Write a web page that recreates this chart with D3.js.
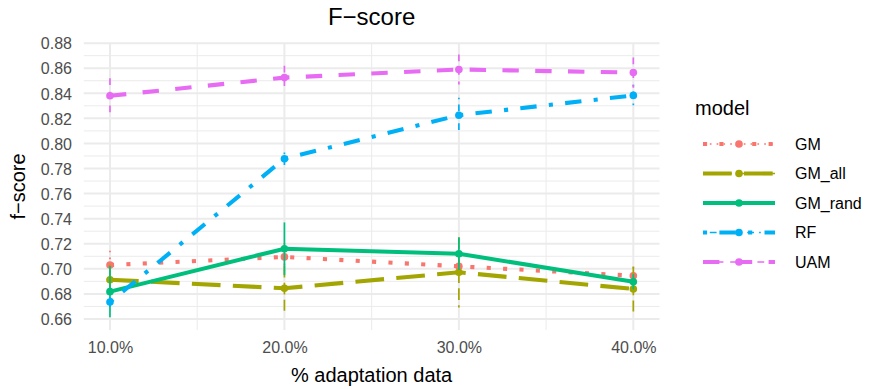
<!DOCTYPE html>
<html>
<head>
<meta charset="utf-8">
<script src="https://cdn.jsdelivr.net/npm/d3@7"></script>
<style>
  body { margin: 0; background: #fff; }
  svg text { font-family: "Liberation Sans", Arial, sans-serif; }
</style>
</head>
<body>
<svg width="874" height="389"></svg>
<script>
// data
var fractions = [10, 20, 30, 40];
var models = ["GM", "GM_all", "GM_rand", "RF", "UAM"];
var GM      = [0.703, 0.7095, 0.702, 0.6945];
var GM_all  = [0.6913, 0.6845, 0.6972, 0.6839];
var GM_rand = [0.6818, 0.7160, 0.7120, 0.6897];
var RF      = [0.6735, 0.7878, 0.8225, 0.8383];
var UAM     = [0.8380, 0.8525, 0.8590, 0.8565];
var GM_sd      = [0.0115, 0.011, 0.010, 0.007];
var GM_all_sd  = [0.012, 0.018, 0.028, 0.018];
var GM_rand_sd = [0.0205, 0.021, 0.013, 0.006];
var RF_sd      = [0.004, 0.005, 0.014, 0.0085];
var UAM_sd     = [0.014, 0.0095, 0.012, 0.012];
var yTicks = [0.66, 0.68, 0.70, 0.72, 0.74, 0.76, 0.78, 0.80, 0.82, 0.84, 0.86, 0.88];
var xTicks = [10, 20, 30, 40];

var values = { "GM": GM, "GM_all": GM_all, "GM_rand": GM_rand, "RF": RF, "UAM": UAM };
var sds = { "GM": GM_sd, "GM_all": GM_all_sd, "GM_rand": GM_rand_sd, "RF": RF_sd, "UAM": UAM_sd };

var color = {
  'GM': "#F8766D",
  'GM_all': "#A3A500",
  'GM_rand': "#00BF7D",
  'RF': "#00B0F6",
  'UAM': "#E76BF3"
};
// R linetypes: dotted, longdash, solid, dotdash, dashed (in units of lwd)
var dashUnits = {
  'GM': [1, 3],
  'GM_all': [7, 3],
  'GM_rand': null,
  'RF': [1, 3, 4, 3],
  'UAM': [4, 4]
};
var THICK = 4.1, THIN = 1.7;
function dash(m, w) {
  if (!dashUnits[m]) return null;
  return dashUnits[m].map(function(u) { return u * w; }).join(",");
}

var svg = d3.select("svg");
var panel = { left: 83.8, right: 659.5, top: 43, bottom: 330 };

var x = d3.scaleLinear().domain([8.5, 41.5]).range([panel.left, panel.right]);
var y = d3.scaleLinear().domain([0.6512, 0.8801]).range([panel.bottom, panel.top]);

/*  GRID  */
var grid = svg.append("g");
d3.range(0.65, 0.885, 0.01).forEach(function(v) {
  var major = yTicks.some(function(t) { return Math.abs(t - v) < 1e-6; });
  if (y(v) < panel.top - 1 || y(v) > panel.bottom) return;
  grid.append("line")
    .attr("x1", panel.left).attr("x2", panel.right)
    .attr("y1", y(v)).attr("y2", y(v))
    .attr("stroke", "#EBEBEB").attr("stroke-width", major ? 2 : 1);
});
[15, 25, 35].forEach(function(v) {
  grid.append("line")
    .attr("x1", x(v)).attr("x2", x(v)).attr("y1", panel.top).attr("y2", panel.bottom)
    .attr("stroke", "#EBEBEB").attr("stroke-width", 1);
});
xTicks.forEach(function(v) {
  grid.append("line")
    .attr("x1", x(v)).attr("x2", x(v)).attr("y1", panel.top).attr("y2", panel.bottom)
    .attr("stroke", "#EBEBEB").attr("stroke-width", 2);
});

/*  AXES  */
var yAxis = d3.axisLeft(y).tickValues(yTicks).tickSize(0).tickPadding(0).tickFormat(d3.format(".2f"));
var gy = svg.append("g").attr("transform", "translate(72,0)").call(yAxis);
gy.select(".domain").remove();
gy.selectAll("text").attr("fill", "#4D4D4D").attr("font-size", 16).attr("dy", "0.36em");

var xAxis = d3.axisBottom(x).tickValues(xTicks).tickSize(0).tickPadding(0)
  .tickFormat(function(d) { return d.toFixed(1) + "%"; });
var gx = svg.append("g").attr("transform", "translate(0,341)").call(xAxis);
gx.select(".domain").remove();
gx.selectAll("text").attr("fill", "#4D4D4D").attr("font-size", 16).attr("dy", "0.75em");

svg.append("text").attr("x", 371.6).attr("y", 381.5).attr("text-anchor", "middle")
  .attr("font-size", 20).attr("fill", "#000").text("% adaptation data");
svg.append("text").attr("transform", "translate(25,186.5) rotate(-90)").attr("text-anchor", "middle")
  .attr("font-size", 20).attr("fill", "#000").text("f\u2212score");
svg.append("text").attr("x", 371.6).attr("y", 25).attr("text-anchor", "middle")
  .attr("font-size", 24).attr("fill", "#000").text("F\u2212score");

/*  LINES  */
var line = d3.line().x(function(d) { return x(d.x); }).y(function(d) { return y(d.v); });
var lineGroup = svg.append("g");
models.forEach(function(m) {
  var pts = fractions.map(function(f, i) { return { x: f, v: values[m][i] }; });
  lineGroup.append("path").datum(pts)
    .attr("d", line).attr("fill", "none")
    .attr("stroke", color[m]).attr("stroke-width", THICK)
    .attr("stroke-dasharray", dash(m, THICK));
});

/*  POINT RANGES  */
var rangeGroup = svg.append("g");
models.forEach(function(m) {
  fractions.forEach(function(f, i) {
    var v = values[m][i], s = sds[m][i];
    rangeGroup.append("line")
      .attr("x1", x(f)).attr("x2", x(f))
      .attr("y1", y(v + s)).attr("y2", y(v - s))
      .attr("stroke", color[m]).attr("stroke-width", THIN)
      .attr("stroke-dasharray", dash(m, THIN));
    rangeGroup.append("circle")
      .attr("cx", x(f)).attr("cy", y(v)).attr("r", 3.8)
      .attr("fill", color[m]);
  });
});

/*  LEGEND  */
var legend = svg.append("g");
legend.append("text").attr("x", 695).attr("y", 115).attr("font-size", 20).attr("fill", "#000").text("model");
models.forEach(function(m, i) {
  var ly = 144 + i * 29.5;
  legend.append("line").attr("x1", 703).attr("x2", 775).attr("y1", ly).attr("y2", ly)
    .attr("stroke", color[m]).attr("stroke-width", THICK).attr("stroke-dasharray", dash(m, THICK));
  legend.append("line").attr("x1", 703).attr("x2", 775).attr("y1", ly).attr("y2", ly)
    .attr("stroke", color[m]).attr("stroke-width", THIN).attr("stroke-dasharray", dash(m, THIN));
  legend.append("circle").attr("cx", 739).attr("cy", ly).attr("r", 3.8).attr("fill", color[m]);
  legend.append("text").attr("x", 795).attr("y", ly).attr("dy", "0.36em")
    .attr("font-size", 16).attr("fill", "#000").text(m);
});
</script>
</body>
</html>
